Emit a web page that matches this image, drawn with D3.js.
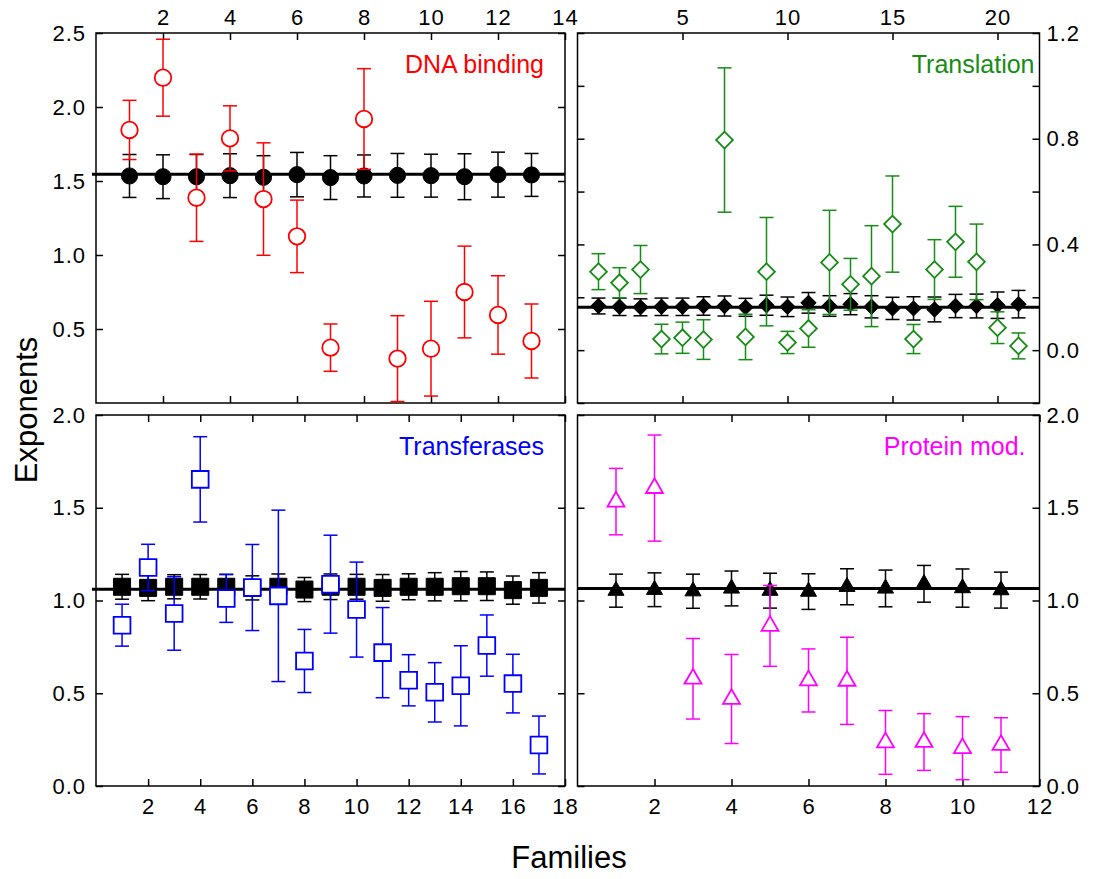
<!DOCTYPE html>
<html lang="en">
<head>
<meta charset="UTF-8">
<title>Exponents by family</title>
<script src="https://cdn.jsdelivr.net/npm/d3@7"></script>
<style>
  body { margin: 0; background: #fff; }
  text { font-family: "Liberation Sans", Arial, sans-serif; }
</style>
</head>
<body>
<script>
// ---- data ----
// DNA binding (top left)
var dnaFam     = [1,2,3,4,5,6,7,8,9,10,11,12,13];
var dnaObs     = [1.845,2.198,1.387,1.788,1.378,1.126,0.374,1.919,0.300,0.367,0.750,0.595,0.419];
var dnaObsErr  = [0.200,0.260,0.295,0.220,0.380,0.245,0.160,0.340,0.290,0.320,0.310,0.265,0.250];
var dnaNull    = [1.534,1.529,1.529,1.536,1.525,1.543,1.523,1.534,1.538,1.536,1.529,1.543,1.541];
var dnaNullErr = [0.145,0.148,0.150,0.148,0.146,0.150,0.148,0.142,0.148,0.145,0.155,0.152,0.145];
var dnaRef = 1.545;

// Translation (top right)
var trFam     = [1,2,3,4,5,6,7,8,9,10,11,12,13,14,15,16,17,18,19,20,21];
var trObs     = [0.297,0.255,0.305,0.042,0.047,0.040,0.795,0.050,0.297,0.029,0.082,0.332,0.249,0.280,0.477,0.042,0.305,0.410,0.334,0.085,0.016];
var trObsErr  = [0.068,0.057,0.091,0.056,0.059,0.075,0.273,0.086,0.205,0.042,0.071,0.197,0.098,0.191,0.182,0.055,0.113,0.134,0.143,0.060,0.049];
var trNull    = [0.167,0.164,0.162,0.164,0.164,0.167,0.167,0.162,0.170,0.164,0.179,0.167,0.174,0.164,0.158,0.158,0.154,0.167,0.167,0.170,0.174];
var trNullErr = [0.030,0.033,0.032,0.033,0.033,0.035,0.038,0.034,0.038,0.037,0.039,0.039,0.040,0.042,0.042,0.044,0.047,0.044,0.045,0.050,0.052];
var trRef = 0.162;

// Transferases (bottom left)
var tfFam     = [1,2,3,4,5,6,7,8,9,10,11,12,13,14,15,16,17];
var tfObs     = [0.867,1.178,0.930,1.653,1.011,1.070,1.025,0.674,1.088,0.951,0.719,0.570,0.505,0.540,0.757,0.552,0.221];
var tfObsErr  = [0.113,0.125,0.198,0.230,0.129,0.232,0.462,0.170,0.264,0.256,0.243,0.138,0.160,0.216,0.165,0.158,0.156];
var tfNull    = [1.074,1.068,1.074,1.074,1.074,1.068,1.074,1.059,1.074,1.074,1.068,1.074,1.074,1.077,1.077,1.056,1.068];
var tfNullErr = [0.067,0.069,0.065,0.066,0.067,0.065,0.069,0.065,0.069,0.067,0.072,0.070,0.076,0.079,0.077,0.076,0.082];
var tfRef = 1.061;

// Protein modification (bottom right)
var pmFam     = [1,2,3,4,5,6,7,8,9,10,11];
var pmObs     = [1.533,1.606,0.578,0.469,0.863,0.569,0.567,0.235,0.237,0.204,0.221];
var pmObsErr  = [0.179,0.286,0.217,0.240,0.218,0.170,0.235,0.172,0.153,0.170,0.147];
var pmNull    = [1.053,1.058,1.050,1.065,1.053,1.048,1.074,1.065,1.090,1.067,1.056];
var pmNullErr = [0.089,0.091,0.092,0.094,0.094,0.096,0.097,0.099,0.099,0.103,0.097];
var pmRef = 1.065;

// tick values
var dnaXTicks = [2,4,6,8,10,12,14];
var dnaYTicks = [0.5,1.0,1.5,2.0,2.5];
var trXTicks  = [5,10,15,20];
var trYTicks  = [-0.2,0.0,0.2,0.4,0.6,0.8,1.0,1.2];
var trYLabels = [0.0,0.4,0.8,1.2];
var tfXTicks  = [2,4,6,8,10,12,14,16,18];
var tfYTicks  = [0.0,0.5,1.0,1.5,2.0];
var pmXTicks  = [2,4,6,8,10,12];
var pmYTicks  = [0.0,0.5,1.0,1.5,2.0];

var W = 1106, H = 879;
var svg = d3.select("body").append("svg")
    .attr("width", W).attr("height", H);

var fmt = d3.format(".1f");

// one panel = one box with its own scales
var panels = [
  { title: "DNA binding", color: "#ff0000", shape: d3.symbolCircle, openSize: 215, nullSize: 205,
    fam: dnaFam, obs: dnaObs, obsErr: dnaObsErr, nul: dnaNull, nulErr: dnaNullErr, ref: dnaRef,
    xDom: [0,14], yDom: [0,2.5], box: {l:96, r:565, t:33, b:403}, titleDx: 21,
    xTicks: dnaXTicks, xSide: "top", yTicks: dnaYTicks, yLabels: dnaYTicks, ySide: "left", leftExt: 4 },
  { title: "Translation", color: "#168c16", shape: d3.symbolSquare, rot: 45, openSize: 140, nullSize: 112,
    fam: trFam, obs: trObs, obsErr: trObsErr, nul: trNull, nulErr: trNullErr, ref: trRef,
    xDom: [0,22], yDom: [-0.2,1.2], box: {l:577.5, r:1039.5, t:33, b:403}, titleDx: 5,
    xTicks: trXTicks, xSide: "top", yTicks: trYTicks, yLabels: trYLabels, ySide: "right", leftExt: 0 },
  { title: "Transferases", color: "#0000ff", shape: d3.symbolSquare, openSize: 280, nullSize: 290,
    fam: tfFam, obs: tfObs, obsErr: tfObsErr, nul: tfNull, nulErr: tfNullErr, ref: tfRef,
    xDom: [0,18], yDom: [0,2], box: {l:96, r:565, t:415, b:786}, titleDx: 21,
    xTicks: tfXTicks, xSide: "bottom", yTicks: tfYTicks, yLabels: tfYTicks, ySide: "left", leftExt: 4 },
  { title: "Protein mod.", color: "#ff00ff", shape: d3.symbolTriangle, openSize: 125, nullSize: 112,
    fam: pmFam, obs: pmObs, obsErr: pmObsErr, nul: pmNull, nulErr: pmNullErr, ref: pmRef,
    xDom: [0,12], yDom: [0,2], box: {l:577.5, r:1039.5, t:415, b:786}, titleDx: 14,
    xTicks: pmXTicks, xSide: "bottom", yTicks: pmYTicks, yLabels: pmYTicks, ySide: "right", leftExt: 0 }
];

panels.forEach(function(p) {
  var b = p.box;
  var x = d3.scaleLinear().domain(p.xDom).range([b.l, b.r]);
  var y = d3.scaleLinear().domain(p.yDom).range([b.b, b.t]);
  var g = svg.append("g");

  // axes: inward ticks on all four sides, labels on one side each
  function styleAxis(sel) {
    sel.select(".domain").remove();
    sel.selectAll(".tick line").attr("stroke", "#000").attr("stroke-width", 1.5);
    sel.selectAll(".tick text").attr("fill", "#000")
      .style("font-size", "22px").style("letter-spacing", "1px");
  }
  var xLab = function(d) { return d; };
  var topAx = d3.axisTop(x).tickValues(p.xTicks).tickSizeInner(-7).tickSizeOuter(0).tickPadding(8)
      .tickFormat(p.xSide === "top" ? xLab : "");
  var botAx = d3.axisBottom(x).tickValues(p.xTicks).tickSizeInner(-7).tickSizeOuter(0).tickPadding(12)
      .tickFormat(p.xSide === "bottom" ? xLab : "");
  var yLab = function(d) {
    return p.yLabels.some(function(v) { return Math.abs(v - d) < 1e-9; }) ? fmt(d) : "";
  };
  var leftAx = d3.axisLeft(y).tickValues(p.yTicks).tickSizeInner(-7).tickSizeOuter(0).tickPadding(10)
      .tickFormat(p.ySide === "left" ? yLab : "");
  var rightAx = d3.axisRight(y).tickValues(p.yTicks).tickSizeInner(-7).tickSizeOuter(0).tickPadding(7)
      .tickFormat(p.ySide === "right" ? yLab : "");

  g.append("g").attr("transform", "translate(0," + b.t + ")").call(topAx).call(styleAxis);
  g.append("g").attr("transform", "translate(0," + b.b + ")").call(botAx).call(styleAxis);
  g.append("g").attr("transform", "translate(" + b.l + ",0)").call(leftAx).call(styleAxis);
  g.append("g").attr("transform", "translate(" + b.r + ",0)").call(rightAx).call(styleAxis);

  g.append("rect")
    .attr("x", b.l).attr("y", b.t).attr("width", b.r - b.l).attr("height", b.b - b.t)
    .attr("fill", "none").attr("stroke", "#000").attr("stroke-width", 1.5);

  // reference line
  g.append("line")
    .attr("x1", b.l - p.leftExt).attr("x2", b.r)
    .attr("y1", y(p.ref)).attr("y2", y(p.ref))
    .attr("stroke", "#000").attr("stroke-width", 3);

  var sym = d3.symbol().type(p.shape);
  var rot = p.rot ? " rotate(" + p.rot + ")" : "";

  function drawSeries(vals, errs, color, size, fill, sw) {
    var s = g.append("g");
    var pts = p.fam.map(function(f, i) { return { f: f, v: vals[i], e: errs[i] }; });
    var eb = s.selectAll(".eb").data(pts).enter().append("g")
      .attr("stroke", color).attr("stroke-width", 1.5);
    eb.append("line")
      .attr("x1", function(d) { return x(d.f); }).attr("x2", function(d) { return x(d.f); })
      .attr("y1", function(d) { return y(d.v - d.e); }).attr("y2", function(d) { return y(d.v + d.e); });
    [-1, 1].forEach(function(sgn) {
      eb.append("line")
        .attr("x1", function(d) { return x(d.f) - 7; }).attr("x2", function(d) { return x(d.f) + 7; })
        .attr("y1", function(d) { return y(d.v + sgn * d.e); })
        .attr("y2", function(d) { return y(d.v + sgn * d.e); });
    });
    s.selectAll(".mk").data(pts).enter().append("path")
      .attr("d", sym.size(size)())
      .attr("transform", function(d) { return "translate(" + x(d.f) + "," + y(d.v) + ")" + rot; })
      .attr("fill", fill).attr("stroke", color).attr("stroke-width", sw);
  }

  drawSeries(p.nul, p.nulErr, "#000", p.nullSize, "#000", 1);
  drawSeries(p.obs, p.obsErr, p.color, p.openSize, "#fff", 1.8);

  g.append("text")
    .attr("x", b.r - p.titleDx).attr("y", b.t + 40)
    .attr("text-anchor", "end")
    .attr("fill", p.color)
    .style("font-size", "25px")
    .text(p.title);
});

// shared axis titles
svg.append("text")
  .attr("transform", "translate(37,410) rotate(-90)")
  .attr("text-anchor", "middle")
  .style("font-size", "31px")
  .text("Exponents");

svg.append("text")
  .attr("x", 569).attr("y", 868)
  .attr("text-anchor", "middle")
  .style("font-size", "31px")
  .text("Families");
</script>
</body>
</html>
